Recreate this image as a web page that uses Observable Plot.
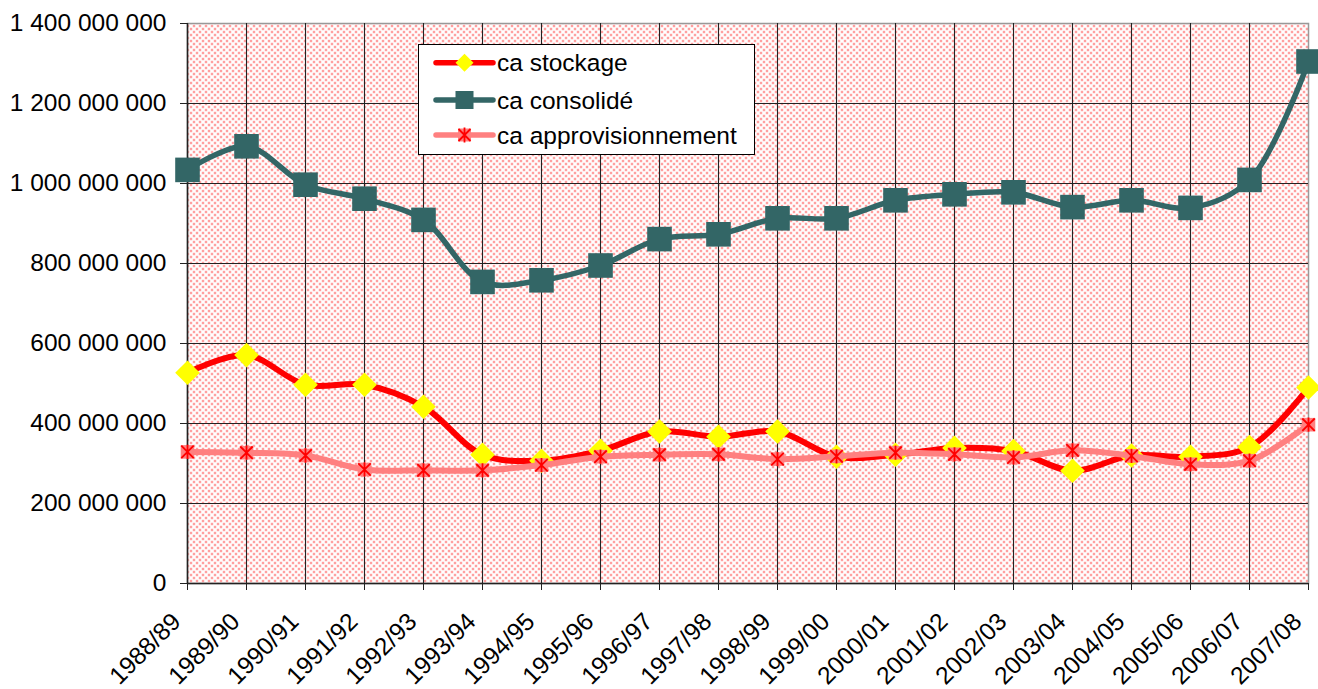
<!DOCTYPE html>
<html><head><meta charset="utf-8">
<script src="https://cdn.jsdelivr.net/npm/d3@7"></script>
<script src="https://cdn.jsdelivr.net/npm/@observablehq/plot@0.6"></script>
<style>
body{margin:0;background:#fff;}
#wrap{position:relative;width:1318px;height:689px;font-family:"Liberation Sans",Arial,sans-serif;}
#legend{position:absolute;left:418px;top:44px;}
</style></head>
<body><div id="wrap"></div>
<script>
const years = ["1988/89","1989/90","1990/91","1991/92","1992/93","1993/94","1994/95","1995/96","1996/97","1997/98","1998/99","1999/00","2000/01","2001/02","2002/03","2003/04","2004/05","2005/06","2006/07","2007/08"];
// values in millions
const caStockage = [527,571,497,497,442,322,307,332,380,367,380,317,322,339,331,282,320,317,341,490];
const caConsolide = [1034,1093,997,962,909,754,758,795,861,873,913,913,958,973,978,941,958,939,1009,1305];
const caAppro = [329,327,320,285,283,283,296,317,322,323,311,318,327,323,315,333,319,298,307,397];
const yTicks = [0,200000000,400000000,600000000,800000000,1000000000,1200000000,1400000000];
const seriesNames = ["ca stockage","ca consolidé","ca approvisionnement"];

const mk = arr => years.map((y,i)=>({year:y, value:arr[i]*1e6}));
const sto = mk(caStockage), con = mk(caConsolide), app = mk(caAppro);

const R = size => Math.sqrt(size/Math.PI);
const squareSym = {draw(c,s){const r=R(s);c.moveTo(-r,-r);c.lineTo(r,-r);c.lineTo(r,r);c.lineTo(-r,r);c.closePath();}};
const diamondSym = {draw(c,s){const r=R(s);c.moveTo(0,-r);c.lineTo(r,0);c.lineTo(0,r);c.lineTo(-r,0);c.closePath();}};
const asterSym = {draw(c,s){const r=R(s);c.moveTo(-r,-r);c.lineTo(r,r);c.moveTo(r,-r);c.lineTo(-r,r);c.moveTo(0,-r*1.15);c.lineTo(0,r*1.15);}};

const fmt = v => d3.format(",")(v).replace(/,/g," ");
const font = "Liberation Sans, Arial, sans-serif";

const chart = Plot.plot({
  width:1318, height:689,
  marginLeft:187, marginRight:10, marginTop:23, marginBottom:106,
  style:{fontFamily:font, fontSize:"24.5px", color:"#000", background:"transparent", overflow:"visible"},
  x:{type:"point", domain:years, padding:0, label:null},
  y:{domain:[0,1400000000], label:null},
  marks:[
    Plot.frame({fill:"url(#dots)", stroke:"#999", strokeWidth:1.5}),
    Plot.gridY(yTicks.slice(1,-1), {stroke:"#222", strokeOpacity:1, strokeWidth:1.1}),
    Plot.gridX(years.slice(1,-1), {stroke:"#222", strokeOpacity:1, strokeWidth:1.1}),
    Plot.ruleY([0], {stroke:"#222", strokeWidth:1.5}),
    Plot.ruleX([years[0]], {stroke:"#222", strokeWidth:1.5}),
    Plot.line(sto, {x:"year", y:"value", stroke:"#ff0000", strokeWidth:6, curve:"catmull-rom"}),
    Plot.dot(sto, {x:"year", y:"value", symbol:diamondSym, r:12.3, fill:"#ffff00", stroke:"none"}),
    Plot.line(con, {x:"year", y:"value", stroke:"#336666", strokeWidth:5.5, curve:"catmull-rom"}),
    Plot.dot(con, {x:"year", y:"value", symbol:squareSym, r:12.3, fill:"#336666", stroke:"none"}),
    Plot.line(app, {x:"year", y:"value", stroke:"#ff8080", strokeWidth:6, curve:"catmull-rom"}),
    Plot.dot(app, {x:"year", y:"value", symbol:squareSym, r:6.8, fill:"#ff8080", stroke:"none"}),
    Plot.dot(app, {x:"year", y:"value", symbol:asterSym, r:6.2, fill:"none", stroke:"#ff0000", strokeWidth:1.8}),
    Plot.axisY({ticks:yTicks, tickFormat:fmt, tickSize:7, tickPadding:14, stroke:"#222"}),
    Plot.axisX({ticks:years, tickSize:7, tickFormat:()=>"", stroke:"#222"}),
    Plot.axisX({ticks:years, tickSize:7, tickPadding:6, tickRotate:-45, strokeOpacity:0, dx:-11, dy:21})
  ]
});

const ns = "http://www.w3.org/2000/svg";
const defs = document.createElementNS(ns,"defs");
defs.innerHTML = `<pattern id="dots" width="6" height="6" patternUnits="userSpaceOnUse">
<rect width="6" height="6" fill="#fff"/>
<circle cx="1.5" cy="1.5" r="1.2" fill="#ffb8b8"/><circle cx="1.5" cy="1.5" r="0.7" fill="#ff2020"/>
<circle cx="4.5" cy="4.5" r="1.2" fill="#ffb8b8"/><circle cx="4.5" cy="4.5" r="0.7" fill="#ff2020"/>
</pattern>`;
chart.prepend(defs);
const wrap = document.getElementById("wrap");
wrap.appendChild(chart);

// legend
const lg = d3.create("svg").attr("id","legend").attr("width",339).attr("height",113)
  .style("position","absolute").style("left","418px").style("top","44px");
lg.append("rect").attr("x",0.5).attr("y",0.5).attr("width",336).attr("height",110).attr("fill","#fff").attr("stroke","#000");
const rows = [18.7, 56, 91];
const lineCols = ["#ff0000","#336666","#ff8080"];
rows.forEach((cy,i)=>{
  lg.append("line").attr("x1",18).attr("x2",75).attr("y1",cy).attr("y2",cy).attr("stroke",lineCols[i]).attr("stroke-width",5.5).attr("stroke-linecap","round");
  const cx = 46.5;
  if(i===0) lg.append("path").attr("d",`M${cx},${cy-9}L${cx+9},${cy}L${cx},${cy+9}L${cx-9},${cy}Z`).attr("fill","#ffff00");
  if(i===1) lg.append("rect").attr("x",cx-9).attr("y",cy-9).attr("width",18).attr("height",18).attr("fill","#336666");
  if(i===2){
    lg.append("rect").attr("x",cx-6.5).attr("y",cy-6.5).attr("width",13).attr("height",13).attr("fill","#ff8080");
    lg.append("path").attr("d",`M${cx-6},${cy-6}L${cx+6},${cy+6}M${cx+6},${cy-6}L${cx-6},${cy+6}M${cx},${cy-7.5}L${cx},${cy+7.5}`).attr("stroke","#ff0000").attr("stroke-width",1.8).attr("fill","none");
  }
  lg.append("text").attr("x",79).attr("y",cy+8.6).attr("font-family",font).attr("font-size","24.5px").attr("fill","#000").text(seriesNames[i]);
});
wrap.appendChild(lg.node());
</script>
</body></html>
